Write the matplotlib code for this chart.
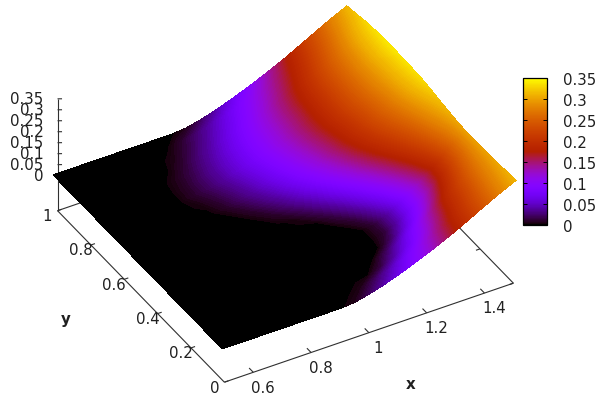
import matplotlib
matplotlib.use("Agg")
import matplotlib.pyplot as plt
from matplotlib.cm import ScalarMappable
from matplotlib.colors import Normalize
import numpy as np
from mpl_toolkits.mplot3d import proj3d

x_values = [0.49, 0.55, 0.60, 0.65, 0.70, 0.75, 0.80, 0.85, 0.90, 0.95, 1.00,
            1.05, 1.10, 1.15, 1.20, 1.25, 1.30, 1.35, 1.40, 1.45, 1.507]
y_values = [-0.005, 0.05, 0.10, 0.15, 0.20, 0.25, 0.30, 0.35, 0.40, 0.45, 0.50,
            0.55, 0.60, 0.65, 0.70, 0.75, 0.80, 0.85, 0.90, 0.95, 1.01]
z_rows = [
 [0,0,0,0,0,0,0,0,0,.006,.021,.040,.063,.088,.115,.144,.175,.209,.243,.276,.310],
 [0,0,0,0,0,0,0,0,0,0,.005,.021,.043,.070,.100,.133,.168,.203,.237,.271,.306],
 [0,0,0,0,0,0,0,0,0,0,0,0,.016,.042,.075,.112,.153,.193,.229,.266,.302],
 [0,0,0,0,0,0,0,0,0,0,0,0,.002,.023,.055,.093,.137,.183,.222,.260,.299],
 [0,0,0,0,0,0,0,0,0,0,0,0,0,.002,.027,.064,.108,.159,.207,.252,.298],
 [0,0,0,0,0,0,0,0,0,0,0,0,0,0,.013,.046,.089,.137,.191,.244,.297],
 [0,0,0,0,0,0,0,0,0,0,0,0,0,0,.015,.046,.088,.134,.186,.242,.298],
 [0,0,0,0,0,0,0,0,0,0,0,0,0,.013,.041,.077,.119,.165,.211,.256,.301],
 [0,0,0,0,0,0,0,0,0,0,0,0,.016,.042,.075,.112,.153,.194,.232,.270,.308],
 [0,0,0,0,0,0,0,0,0,0,.004,.021,.046,.075,.108,.145,.182,.215,.248,.282,.315],
 [0,0,0,0,0,0,0,0,0,.009,.026,.048,.074,.103,.134,.168,.200,.231,.261,.292,.323],
 [0,0,0,0,0,0,0,0,.010,.026,.045,.069,.094,.121,.150,.181,.211,.241,.270,.300,.330],
 [0,0,0,0,0,0,0,.009,.023,.040,.060,.082,.106,.131,.158,.187,.216,.245,.274,.304,.333],
 [0,0,0,0,0,0,.004,.015,.030,.048,.068,.090,.113,.138,.164,.192,.221,.249,.278,.306,.335],
 [0,0,0,0,0,.001,.010,.022,.037,.055,.074,.095,.117,.140,.165,.192,.221,.250,.279,.307,.336],
 [0,0,0,0,0,.001,.009,.022,.037,.054,.073,.094,.115,.138,.162,.190,.219,.249,.279,.308,.338],
 [0,0,0,0,0,0,.007,.018,.033,.050,.069,.090,.112,.135,.160,.187,.217,.247,.276,.306,.336],
 [0,0,0,0,0,0,.002,.012,.027,.043,.062,.083,.105,.129,.154,.181,.211,.242,.272,.303,.333],
 [0,0,0,0,0,0,0,.006,.018,.034,.052,.072,.095,.118,.143,.170,.200,.232,.264,.296,.328],
 [0,0,0,0,0,0,0,.001,.011,.025,.042,.062,.084,.107,.132,.159,.188,.221,.254,.287,.320],
 [0,0,0,0,0,0,0,0,0,.006,.021,.040,.063,.088,.115,.144,.175,.209,.243,.277,.311],
]
x_ticks = [0.6, 0.8, 1.0, 1.2, 1.4]
x_tick_labels = ["0.6", "0.8", "1", "1.2", "1.4"]
y_ticks = [0, 0.2, 0.4, 0.6, 0.8, 1]
y_tick_labels = ["0", "0.2", "0.4", "0.6", "0.8", "1"]
z_ticks = [0, 0.05, 0.1, 0.15, 0.2, 0.25, 0.3, 0.35]
z_tick_labels = ["0", "0.05", "0.1", "0.15", "0.2", "0.25", "0.3", "0.35"]

W, H = 603, 406
FS = 10.8
LINE = "#303030"
TEXT = "#202020"
XMIN, XMAX, YMIN, YMAX, ZBASE, ZTOP = 0.5, 1.5, 0, 1, -0.16, 0.35

fig = plt.figure(figsize=(W / 100, H / 100), dpi=100)
rect = [28.7 / W, -42.75 / H, 500 / W, 500 / H]
ax = fig.add_axes(rect, projection="3d", proj_type="ortho")
ax.view_init(elev=36.4, azim=-120)
ax.set_xlim(XMIN, XMAX)
ax.set_ylim(YMIN, YMAX)
ax.set_zlim(ZBASE, ZTOP)
ax.set_box_aspect((1, 1, 0.4166), zoom=0.9552)
ax.set_axis_off()
ax.patch.set_alpha(0)

ax2 = fig.add_axes(rect, facecolor="none")
ax2.set_axis_off()


def to_screen(x, y, z):
    """Project data coordinates with the 3D axes' own projection."""
    sx, sy, _ = proj3d.proj_transform(np.ravel(x), np.ravel(y), np.ravel(z),
                                      ax.get_proj())
    return np.asarray(sx).reshape(np.shape(x)), np.asarray(sy).reshape(np.shape(x))


def seg(xs, ys, zs):
    ax.plot(xs, ys, zs, color=LINE, lw=0.8, solid_capstyle="butt")


def label(x, y, z, s, **kw):
    sx, sy = to_screen(x, y, z)
    ax2.text(float(sx), float(sy), s, fontsize=FS, color=TEXT, va="center",
             clip_on=False, **kw)


# base frame and z axis
seg([XMIN, XMAX], [YMIN, YMIN], [ZBASE, ZBASE])
seg([XMIN, XMIN], [YMIN, YMAX], [ZBASE, ZBASE])
seg([XMAX, XMAX], [YMIN, YMAX], [ZBASE, ZBASE])
seg([XMIN, XMAX], [YMAX, YMAX], [ZBASE, ZBASE])
seg([XMIN, XMIN], [YMAX, YMAX], [ZBASE, ZTOP])

for t, lab in zip(x_ticks, x_tick_labels):
    seg([t, t], [YMIN, YMIN + 0.025], [ZBASE, ZBASE])
    seg([t, t], [YMAX, YMAX - 0.025], [ZBASE, ZBASE])
    label(t - 0.0132, YMIN - 0.0792, ZBASE, lab, ha="center")
for t, lab in zip(y_ticks, y_tick_labels):
    seg([XMIN, XMIN + 0.014], [t, t], [ZBASE, ZBASE])
    seg([XMAX, XMAX - 0.014], [t, t], [ZBASE, ZBASE])
    label(XMIN - 0.0386, t - 0.0068, ZBASE, lab, ha="center")
for t, lab in zip(z_ticks, z_tick_labels):
    seg([XMIN, XMIN + 0.0117], [YMAX, YMAX - 0.0067], [t, t])
    label(XMIN - 0.0364, YMAX + 0.0208, t, lab, ha="right")

label(0.98, YMIN - 0.2865, ZBASE, "x", ha="center", fontweight="bold")
label(0.251, 0.518, ZBASE, "y", ha="center", fontweight="bold")

# surface: grid projected by the 3D axes, filled with fine colour bands
X, Y = np.meshgrid(x_values, y_values)
Z = np.array(z_rows, dtype=float)
SX, SY = to_screen(X, Y, Z)
norm = Normalize(0, 0.35)
ax2.contourf(SX, SY, Z, levels=np.linspace(-0.0001, 0.35, 176), cmap="gnuplot",
             norm=norm)
ax2.set_xlim(ax.viewLim.intervalx)
ax2.set_ylim(ax.viewLim.intervaly)

# colour bar
cax = fig.add_axes([523 / W, (H - 226) / H, 24 / W, 147 / H])
cb = fig.colorbar(ScalarMappable(norm=norm, cmap="gnuplot"), cax=cax, ticks=z_ticks)
cb.ax.set_yticklabels(z_tick_labels, fontsize=FS, color=TEXT)
cb.ax.tick_params(axis="y", direction="in", left=True, right=True, length=3.2,
                  width=0.7, pad=11.5, color="black")
cb.outline.set_linewidth(0.9)

fig.savefig("out.png", dpi=100)
